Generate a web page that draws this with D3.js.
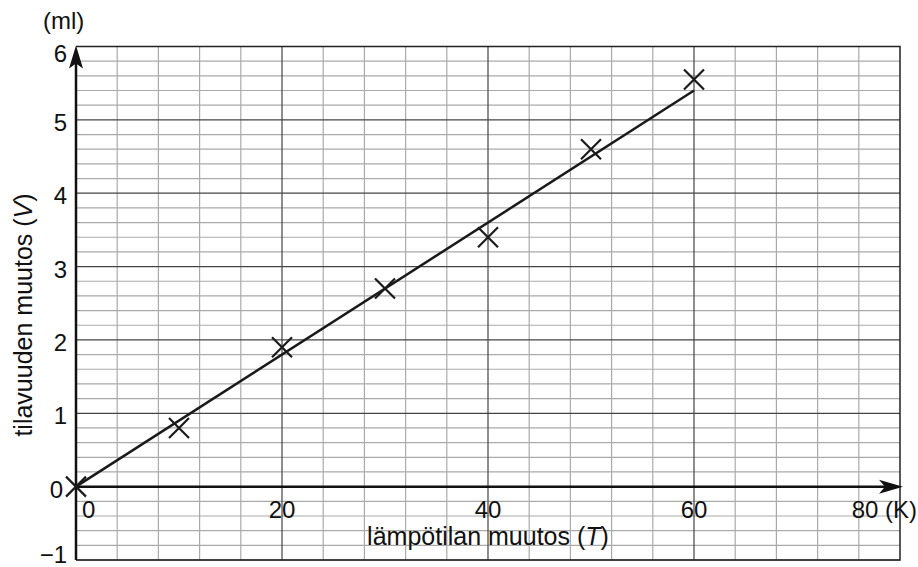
<!DOCTYPE html>
<html>
<head>
<meta charset="utf-8">
<script src="https://cdn.jsdelivr.net/npm/d3@7"></script>
<style>
  body { margin: 0; background: #fff; }
  svg { font-family: "Liberation Sans", Arial, sans-serif; }
</style>
</head>
<body>
<div id="graph-container"></div>
<script>
// measured points: temperature change (K) vs volume change (ml)
const tempChange = [0, 10, 20, 30, 40, 50, 60];
const volChange = [0, 0.8, 1.9, 2.7, 3.4, 4.6, 5.55];

// drawn fit line
const fitT = [0, 60];
const fitV = [0, 5.4];

const xTickLabels = ['0', '20', '40', '60', '80 (K)'];
const xTickValues = [0, 20, 40, 60, 80];
const yTickValues = [-1, 0, 1, 2, 3, 4, 5, 6];

const WIDTH = 918;
const HEIGHT = 567;
const FONT = 24;

const xScale = d3.scaleLinear().domain([0, 80]).range([76, 900]);
const yScale = d3.scaleLinear().domain([-1, 6]).range([560, 46.5]);

const svg = d3.select('#graph-container')
              .append('svg')
              .attr('width', WIDTH)
              .attr('height', HEIGHT);

// minor grid
const minorX = d3.range(0, 80.01, 4);
const minorY = d3.range(-1, 6.01, 0.2).map(v => Math.round(v * 10) / 10);

svg.append('g')
   .selectAll('line')
   .data(minorX.filter(v => v % 20 !== 0))
   .enter()
   .append('line')
   .attr('x1', d => xScale(d)).attr('x2', d => xScale(d))
   .attr('y1', yScale(-1)).attr('y2', yScale(6))
   .attr('stroke', '#aaa')
   .attr('stroke-width', 1.2);

svg.append('g')
   .selectAll('line')
   .data(minorY.filter(v => Math.abs(v - Math.round(v)) > 1e-6))
   .enter()
   .append('line')
   .attr('x1', xScale(0)).attr('x2', xScale(80))
   .attr('y1', d => yScale(d)).attr('y2', d => yScale(d))
   .attr('stroke', '#aaa')
   .attr('stroke-width', 1.2);

// major grid
svg.append('g')
   .selectAll('line')
   .data([20, 40, 60])
   .enter()
   .append('line')
   .attr('x1', d => xScale(d)).attr('x2', d => xScale(d))
   .attr('y1', yScale(-1)).attr('y2', yScale(6))
   .attr('stroke', '#444')
   .attr('stroke-width', 1.2);

svg.append('g')
   .selectAll('line')
   .data(yTickValues.filter(v => v !== 0))
   .enter()
   .append('line')
   .attr('x1', xScale(0)).attr('x2', xScale(80))
   .attr('y1', d => yScale(d)).attr('y2', d => yScale(d))
   .attr('stroke', '#444')
   .attr('stroke-width', 1.2);

// frame (top, right, bottom)
svg.append('path')
   .attr('d', `M${xScale(0)},${yScale(6)} H${xScale(80)} V${yScale(-1)} H${xScale(0)}`)
   .attr('fill', 'none')
   .attr('stroke', '#222')
   .attr('stroke-width', 1.5);

// axes with arrows
svg.append('line')
   .attr('x1', xScale(0)).attr('x2', xScale(0))
   .attr('y1', yScale(-1)).attr('y2', yScale(6) + 10)
   .attr('stroke', '#111')
   .attr('stroke-width', 2.5);

svg.append('path')
   .attr('d', `M${xScale(0)},${yScale(6) - 1} L${xScale(0) + 7},${yScale(6) + 22} L${xScale(0)},${yScale(6) + 17} L${xScale(0) - 7},${yScale(6) + 22} Z`)
   .attr('fill', '#111');

svg.append('line')
   .attr('x1', xScale(0)).attr('x2', xScale(80) - 8)
   .attr('y1', yScale(0)).attr('y2', yScale(0))
   .attr('stroke', '#111')
   .attr('stroke-width', 2.5);

svg.append('path')
   .attr('d', `M${xScale(80) + 3},${yScale(0)} L${xScale(80) - 21},${yScale(0) - 7} L${xScale(80) - 15},${yScale(0)} L${xScale(80) - 21},${yScale(0) + 7} Z`)
   .attr('fill', '#111');

// tick labels
const yLabelOffset = d => d === 6 ? 15 : (d === -1 ? 3 : 11);

svg.append('g')
   .selectAll('text')
   .data(yTickValues)
   .enter()
   .append('text')
   .attr('x', d => d === 0 ? 63 : 67)
   .attr('y', d => yScale(d) + yLabelOffset(d))
   .attr('text-anchor', 'end')
   .attr('font-size', FONT)
   .attr('fill', '#111')
   .text(d => d < 0 ? '\u2212' + Math.abs(d) : d);

svg.append('g')
   .selectAll('text')
   .data(xTickValues)
   .enter()
   .append('text')
   .attr('x', (d, i) => i === 0 ? xScale(d) + 6 : (i === 4 ? 917 : xScale(d)))
   .attr('y', 518)
   .attr('text-anchor', (d, i) => i === 0 ? 'start' : (i === 4 ? 'end' : 'middle'))
   .attr('font-size', FONT)
   .attr('fill', '#111')
   .text((d, i) => xTickLabels[i]);

svg.append('text')
   .attr('x', 43)
   .attr('y', 29)
   .attr('font-size', FONT)
   .attr('fill', '#111')
   .text('(ml)');

// axis titles
const xTitle = svg.append('text')
   .attr('x', 488)
   .attr('y', 545)
   .attr('text-anchor', 'middle')
   .attr('font-size', 25)
   .attr('fill', '#111');
xTitle.append('tspan').text('lämpötilan muutos (');
xTitle.append('tspan').attr('font-style', 'italic').text('T');
xTitle.append('tspan').text(')');

const yTitle = svg.append('text')
   .attr('transform', `translate(32, 315) rotate(-90)`)
   .attr('text-anchor', 'middle')
   .attr('font-size', 25)
   .attr('fill', '#111');
yTitle.append('tspan').text('tilavuuden muutos (');
yTitle.append('tspan').attr('font-style', 'italic').text('V');
yTitle.append('tspan').text(')');

// fit line
const line = d3.line()
               .x((d, i) => xScale(fitT[i]))
               .y(d => yScale(d));

svg.append('path')
   .datum(fitV)
   .attr('d', line)
   .attr('fill', 'none')
   .attr('stroke', '#1a1a1a')
   .attr('stroke-width', 2.5);

// cross markers
const S = 10;
svg.append('g')
   .selectAll('path')
   .data(tempChange.map((t, i) => [t, volChange[i]]))
   .enter()
   .append('path')
   .attr('d', d => {
     const cx = xScale(d[0]);
     const cy = yScale(d[1]);
     return `M${cx - S},${cy - S} L${cx + S},${cy + S} M${cx - S},${cy + S} L${cx + S},${cy - S}`;
   })
   .attr('fill', 'none')
   .attr('stroke', '#1a1a1a')
   .attr('stroke-width', 2.2);
</script>
</body>
</html>
